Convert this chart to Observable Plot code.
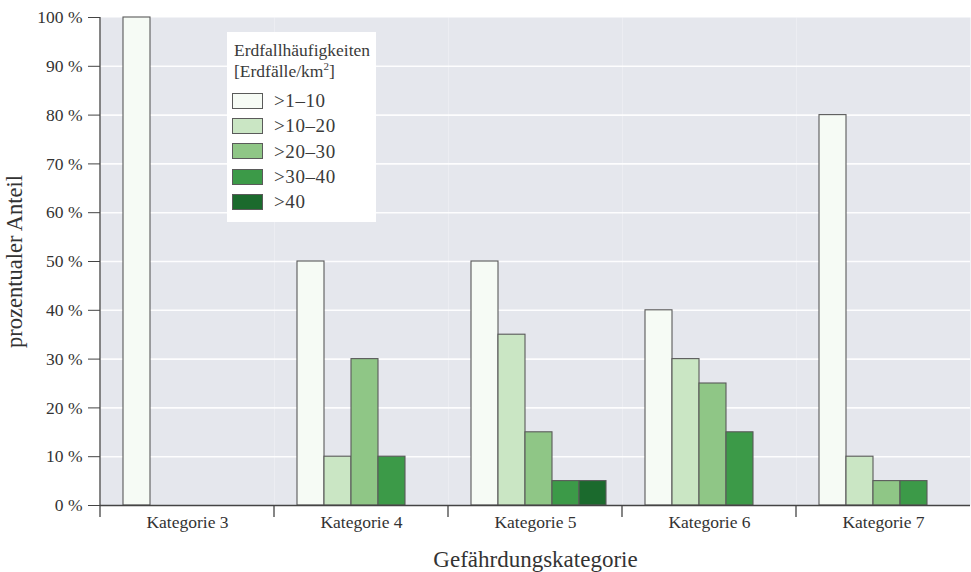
<!DOCTYPE html>
<html>
<head>
<meta charset="utf-8">
<script src="https://cdn.jsdelivr.net/npm/d3@7"></script>
<script src="https://cdn.jsdelivr.net/npm/@observablehq/plot@0.6"></script>
<style>
  html, body { margin: 0; padding: 0; background: #ffffff; }
  #wrap { position: relative; width: 971px; height: 572px; font-family: "Liberation Serif", serif; color: #333; }
  #legend { position: absolute; left: 227px; top: 32px; width: 149px; height: 190px; background: #ffffff; box-sizing: border-box; padding: 8px 0 0 7px; font-size: 17.5px; line-height: 21px; color: #3a3a3a; }
  #legend .title { margin-bottom: 6px; }
  #legend .row { display: flex; align-items: center; height: 25.3px; margin-left: -2px; font-size: 19px; letter-spacing: 0.6px; }
  #legend .sw { width: 29px; height: 14px; border: 1px solid #5a5a5a; margin-right: 11px; }
  #legend sup { font-size: 11px; line-height: 0; }
</style>
</head>
<body>
<div id="wrap"></div>
<script>
// ---- data ----
const categories = ["Kategorie 3", "Kategorie 4", "Kategorie 5", "Kategorie 6", "Kategorie 7"];
const classes = [">1–10", ">10–20", ">20–30", ">30–40", ">40"];
const share_1_10  = [100, 50, 50, 40, 80];
const share_10_20 = [0, 10, 35, 30, 10];
const share_20_30 = [0, 30, 15, 25, 5];
const share_30_40 = [0, 10, 5, 15, 5];
const share_40    = [0, 0, 5, 0, 0];
const yTicks = [0, 10, 20, 30, 40, 50, 60, 70, 80, 90, 100];
const gridTicks = [10, 20, 30, 40, 50, 60, 70, 80, 90];
const classColors = ["#f6fbf5", "#cae6c4", "#8fc686", "#3c9a48", "#1b6a2d"];

const series = [share_1_10, share_10_20, share_20_30, share_30_40, share_40];
const rows = [];
categories.forEach((c, i) => {
  classes.forEach((k, j) => {
    rows.push({cat: c, cls: k, value: series[j][i]});
  });
});
const bars = rows.filter(d => d.value > 0);

const plot = Plot.plot({
  width: 971,
  height: 572,
  marginTop: 17,
  marginBottom: 67,
  marginLeft: 98,
  marginRight: 0,
  style: {fontFamily: "Liberation Serif, serif", color: "#333", background: "transparent"},
  fx: {domain: categories, padding: 0, axis: null},
  x: {domain: classes, paddingInner: 0, paddingOuter: 0.62, align: 0.58, axis: null},
  y: {domain: [0, 100], axis: null},
  color: {domain: classes, range: classColors},
  marks: [
    Plot.frame({fill: "#e5e7ed", stroke: "none"}),
    Plot.gridY(gridTicks, {stroke: "#ffffff", strokeOpacity: 0.9, strokeWidth: 1.6}),
    Plot.barY(bars, {fx: "cat", x: "cls", y: "value", fill: "cls", stroke: "#5a5a5a", strokeWidth: 1.1}),
    Plot.ruleY([0], {stroke: "#444", strokeWidth: 1.3}),
    Plot.axisY({ticks: yTicks, tickFormat: d => d + " %", tickSize: 12, tickPadding: 6, fontSize: 17.5, stroke: "#444",
      label: "prozentualer Anteil", labelAnchor: "center", labelOffset: 94, labelArrow: "none"}),
    Plot.axisFx({anchor: "bottom", tickSize: 0, tickPadding: 10, fontSize: 17.5,
      label: "Gefährdungskategorie", labelAnchor: "center", labelOffset: 61, labelArrow: "none"})
  ]
});

const svg = d3.select(plot);
svg.selectAll('[aria-label="y-axis label"] text').attr("font-size", 22.5).style("font-size", "22.5px");
svg.selectAll('[aria-label="fx-axis label"] text').attr("font-size", 23).style("font-size", "23px");
svg.selectAll('text').attr("fill", "#333");

// axis line and group boundary ticks from the library's scales
const fxS = plot.scale("fx");
const yS = plot.scale("y");
const y0 = yS.apply(0), y100 = yS.apply(100);
const left = fxS.apply(categories[0]);
const g = svg.append("g").attr("stroke", "#444").attr("stroke-width", 1.3);
g.append("line").attr("x1", left).attr("x2", left).attr("y1", y100).attr("y2", y0 + 12);
const bounds = categories.map(c => fxS.apply(c)).concat([fxS.apply(categories[categories.length - 1]) + fxS.bandwidth]);
bounds.slice(1, -1).forEach(b => {
  g.append("line").attr("x1", b).attr("x2", b).attr("y1", y0).attr("y2", y0 + 12);
});

const wrap = document.getElementById("wrap");
wrap.appendChild(plot);

// legend (HTML overlay)
const lg = document.createElement("div");
lg.id = "legend";
lg.innerHTML = '<div class="title">Erdfallhäufigkeiten<br>[Erdfälle/km<sup>2</sup>]</div>' +
  classes.map((k, i) => `<div class="row"><div class="sw" style="background:${classColors[i]}"></div><span>${k.replace(">", "&gt;")}</span></div>`).join("");
wrap.appendChild(lg);
</script>
</body>
</html>
